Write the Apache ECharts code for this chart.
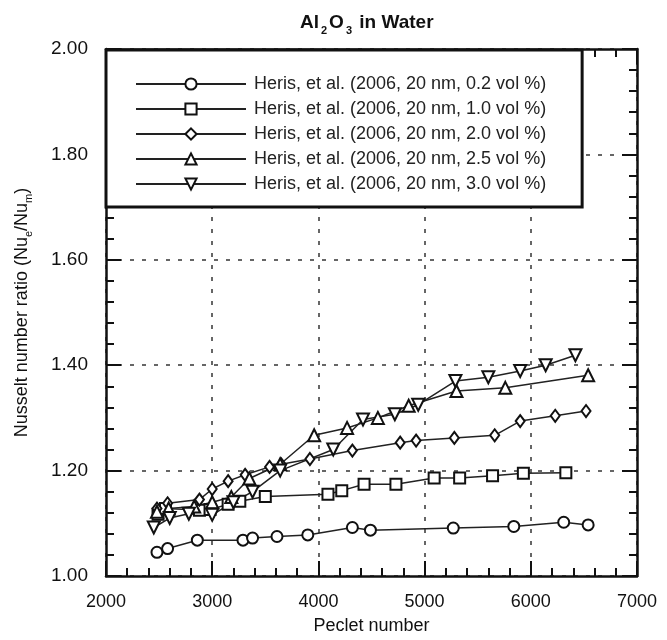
<!DOCTYPE html>
<html><head><meta charset="utf-8">
<script src="https://cdn.jsdelivr.net/npm/echarts@6/dist/echarts.min.js"></script>
<style>html,body{margin:0;padding:0;background:#fff}#c{width:667px;height:640px}</style>
</head><body><div id="c"></div>
<script>
const seriesNames = [
  'Heris, et al. (2006, 20 nm, 0.2 vol %)',
  'Heris, et al. (2006, 20 nm, 1.0 vol %)',
  'Heris, et al. (2006, 20 nm, 2.0 vol %)',
  'Heris, et al. (2006, 20 nm, 2.5 vol %)',
  'Heris, et al. (2006, 20 nm, 3.0 vol %)'
];
const pe02 = [2480, 2580, 2860, 3290, 3380, 3610, 3900, 4320, 4490, 5270, 5840, 6310, 6540];
const nu02 = [1.045, 1.052, 1.068, 1.068, 1.072, 1.075, 1.078, 1.092, 1.087, 1.091, 1.094, 1.102, 1.097];
const pe10 = [2490, 2560, 2880, 2980, 3150, 3260, 3500, 4090, 4220, 4430, 4730, 5090, 5330, 5640, 5930, 6330];
const nu10 = [1.117, 1.128, 1.125, 1.126, 1.136, 1.142, 1.151, 1.155, 1.162, 1.174, 1.174, 1.186, 1.186, 1.190, 1.195, 1.196];
const pe20 = [2480, 2580, 2880, 3000, 3150, 3310, 3540, 3650, 3920, 4320, 4770, 4920, 5280, 5660, 5900, 6230, 6520];
const nu20 = [1.128, 1.138, 1.145, 1.165, 1.180, 1.192, 1.207, 1.212, 1.222, 1.238, 1.253, 1.257, 1.262, 1.267, 1.294, 1.304, 1.313];
const pe25 = [2480, 2590, 2830, 3000, 3180, 3350, 3640, 3960, 4270, 4560, 4850, 5300, 5760, 6540];
const nu25 = [1.122, 1.128, 1.132, 1.140, 1.150, 1.185, 1.212, 1.267, 1.281, 1.300, 1.323, 1.351, 1.357, 1.381];
const pe30 = [2450, 2600, 2780, 3000, 3200, 3380, 3640, 4140, 4420, 4720, 4940, 5290, 5600, 5900, 6140, 6420];
const nu30 = [1.092, 1.110, 1.118, 1.116, 1.140, 1.160, 1.200, 1.240, 1.297, 1.307, 1.325, 1.370, 1.377, 1.389, 1.400, 1.419];
const xTicks = [2000, 3000, 4000, 5000, 6000, 7000];
const yTicks = [1.00, 1.20, 1.40, 1.60, 1.80, 2.00];

const pairs = (xs, ys) => xs.map((x, i) => [x, ys[i]]);
const symbols = ['emptyCircle', 'emptyRect', 'emptyDiamond', 'emptyTriangle', 'emptyTriangle'];
const rotations = [0, 0, 0, 0, 180];
const sizes = [11, 11, [9, 12], 12, 12];
const datas = [pairs(pe02, nu02), pairs(pe10, nu10), pairs(pe20, nu20), pairs(pe25, nu25), pairs(pe30, nu30)];
const FONT = "'Liberation Sans', Arial, Helvetica, sans-serif";

const chart = echarts.init(document.getElementById('c'), null, {renderer: 'canvas'});
const gridLine = {show: true, lineStyle: {color: '#666', width: 2, type: [4, 8]}};
const baseX = {
  type: 'value', min: xTicks[0], max: xTicks[xTicks.length - 1], interval: xTicks[1] - xTicks[0],
  axisLine: {show: true, onZero: false, lineStyle: {color: '#111', width: 2.5}},
  axisTick: {show: true, inside: true, length: 15, lineStyle: {color: '#111', width: 2}},
  minorTick: {show: true, splitNumber: 5, length: 8, lineStyle: {color: '#111', width: 2}}
};
const baseY = {
  type: 'value', min: yTicks[0], max: yTicks[yTicks.length - 1], interval: yTicks[1] - yTicks[0],
  axisLine: {show: true, onZero: false, lineStyle: {color: '#111', width: 2.5}},
  axisTick: {show: true, inside: true, length: 15, lineStyle: {color: '#111', width: 2}},
  minorTick: {show: true, splitNumber: 5, length: 8, lineStyle: {color: '#111', width: 2}}
};
chart.setOption({
  backgroundColor: '#fff',
  animation: false,
  title: {
    text: 'Al{s|2}O{s|3} in Water', left: 295, top: 5,
    textStyle: {fontFamily: FONT, fontSize: 19, fontWeight: 'bold', color: '#111',
      rich: {s: {fontFamily: FONT, fontSize: 11, fontWeight: 'bold', color: '#111', verticalAlign: 'bottom', padding: [15, 2, 0, 2]}}}
  },
  grid: {left: 106, right: 30, top: 49, bottom: 62, containLabel: false},
  xAxis: [
    Object.assign({}, baseX, {
      position: 'bottom', name: 'Peclet number', nameLocation: 'middle', nameGap: 41,
      nameTextStyle: {fontFamily: FONT, fontSize: 18, color: '#111'},
      axisLabel: {show: true, margin: 17, fontFamily: FONT, fontSize: 18, color: '#111', formatter: v => String(v)},
      splitLine: gridLine
    }),
    Object.assign({}, baseX, {position: 'top', axisLabel: {show: false}, splitLine: {show: false}})
  ],
  yAxis: [
    Object.assign({}, baseY, {
      position: 'left', name: 'Nusselt number ratio (Nu{s|e}/Nu{s|m})', nameLocation: 'middle', nameGap: 72,
      nameTextStyle: {fontFamily: FONT, fontSize: 18, color: '#111',
        rich: {s: {fontFamily: FONT, fontSize: 11, color: '#111', verticalAlign: 'bottom', padding: [12, 0, 0, 0]}}},
      axisLabel: {show: true, margin: 18, fontFamily: FONT, fontSize: 19, color: '#111', formatter: v => v.toFixed(2)},
      splitLine: gridLine
    }),
    Object.assign({}, baseY, {position: 'right', axisLabel: {show: false}, splitLine: {show: false}})
  ],
  legend: {
    orient: 'vertical', left: 106, top: 50,
    padding: [24, 36, 13, 29],
    itemWidth: 110, itemHeight: 14, itemGap: 5,
    backgroundColor: '#fff', borderColor: '#111', borderWidth: 3,
    textStyle: {fontFamily: FONT, fontSize: 18, color: '#222', lineHeight: 20, padding: [0, 0, 0, 3]},
    data: seriesNames
  },
  series: seriesNames.map((name, i) => ({
    name, type: 'line', xAxisIndex: 0, yAxisIndex: 0,
    data: datas[i],
    symbol: symbols[i], symbolSize: sizes[i], symbolRotate: rotations[i], showAllSymbol: true,
    lineStyle: {color: '#222', width: 1.5},
    itemStyle: {color: '#111', borderWidth: 1.5},
    z: 3
  }))
});
</script></body></html>
